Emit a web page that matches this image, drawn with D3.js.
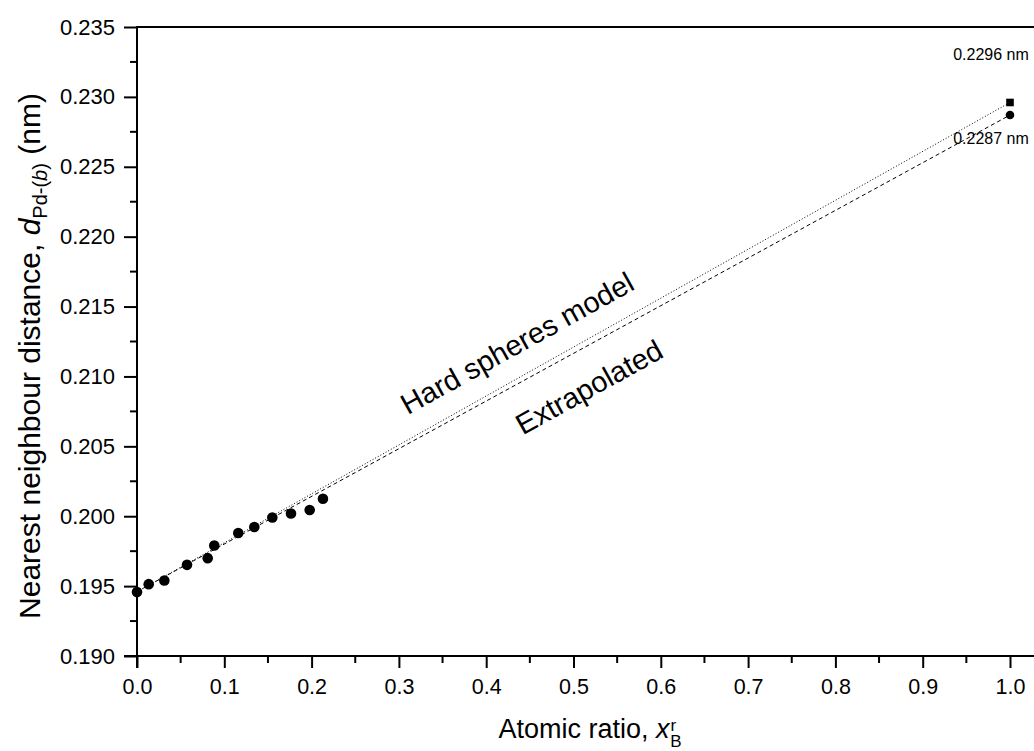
<!DOCTYPE html>
<html><head><meta charset="utf-8">
<script src="https://cdn.jsdelivr.net/npm/d3@7"></script>
<style>body{margin:0;background:#fff;} text{font-family:Arial,"Liberation Sans",sans-serif;fill:#000;}</style>
</head><body>
<svg id="c" width="1034" height="751"></svg>
<script>
// Data
const xMeasured = [0.0, 0.0134, 0.0313, 0.0573, 0.081, 0.0885, 0.116, 0.1344, 0.155, 0.1764, 0.1978, 0.213];
const yMeasured = [0.19457, 0.19514, 0.19540, 0.19652, 0.19700, 0.19791, 0.19880, 0.19923, 0.19991, 0.20020, 0.20044, 0.20125];
const hardSpheresX = [0.0, 1.0];
const hardSpheresY = [0.1946, 0.2296];
const extrapolatedX = [0.0, 1.0];
const extrapolatedY = [0.1946, 0.2287];
const xTicks = [0.0,0.1,0.2,0.3,0.4,0.5,0.6,0.7,0.8,0.9,1.0];
const yTicks = [0.190,0.195,0.200,0.205,0.210,0.215,0.220,0.225,0.230,0.235];

const svg = d3.select("#c");
const x = d3.scaleLinear().domain([0,1]).range([137,1010]);
const y = d3.scaleLinear().domain([0.190,0.235]).range([656,27]);

// top frame line
svg.append("line").attr("x1",x(0)).attr("x2",1034).attr("y1",y(0.235)).attr("y2",y(0.235)).attr("stroke","#000").attr("stroke-width",2);

// x axis
const xAxis = d3.axisBottom(x).tickValues(xTicks).tickFormat(d3.format(".1f")).tickSize(12).tickPadding(11);
const xg = svg.append("g").attr("transform",`translate(0,${y(0.190)})`).call(xAxis);
xg.select(".domain").remove();
xg.append("line").attr("x1",124).attr("x2",1034).attr("stroke","#000").attr("stroke-width",2);
xg.selectAll(".tick line").attr("stroke-width",2);
xg.selectAll(".tick text").attr("font-size",21.5).attr("font-family","Arial, 'Liberation Sans', sans-serif");
const xMinor = d3.range(0.05,1.0,0.1);
xg.selectAll(".xminor").data(xMinor).enter().append("line").attr("x1",d=>x(d)).attr("x2",d=>x(d)).attr("y1",0).attr("y2",7).attr("stroke","#000").attr("stroke-width",2);

// y axis
const yAxis = d3.axisLeft(y).tickValues(yTicks).tickFormat(d3.format(".3f")).tickSize(13).tickPadding(9);
const yg = svg.append("g").attr("transform",`translate(${x(0)},0)`).call(yAxis);
yg.select(".domain").remove();
yg.append("line").attr("y1",y(0.235)-1).attr("y2",y(0.190)+12).attr("stroke","#000").attr("stroke-width",2);
yg.selectAll(".tick line").attr("stroke-width",2);
yg.selectAll(".tick text").attr("font-size",22).attr("font-family","Arial, 'Liberation Sans', sans-serif");
const yMinor = d3.range(0.1925,0.235,0.005);
yg.selectAll(".yminor").data(yMinor).enter().append("line").attr("y1",d=>y(d)).attr("y2",d=>y(d)).attr("x1",0).attr("x2",-7).attr("stroke","#000").attr("stroke-width",2);

// lines
const line = d3.line().x(d=>x(d[0])).y(d=>y(d[1]));
svg.append("path").datum(d3.zip(hardSpheresX, hardSpheresY)).attr("d",line).attr("fill","none").attr("stroke","#000").attr("stroke-width",1).attr("stroke-dasharray","1,2");
svg.append("path").datum(d3.zip(extrapolatedX, extrapolatedY)).attr("d",line).attr("fill","none").attr("stroke","#000").attr("stroke-width",1).attr("stroke-dasharray","4,3");

// points
svg.selectAll(".pt").data(d3.zip(xMeasured,yMeasured)).enter().append("circle")
  .attr("cx",d=>x(d[0])).attr("cy",d=>y(d[1])).attr("r",5.3).attr("fill","#000");
svg.append("rect").attr("x",x(1)-3.8).attr("y",y(hardSpheresY[1])-3.8).attr("width",7.6).attr("height",7.6).attr("fill","#000");
svg.append("circle").attr("cx",x(1)).attr("cy",y(extrapolatedY[1])).attr("r",4.3).attr("fill","#000");

// annotations
svg.append("text").attr("x",991).attr("y",60).attr("text-anchor","middle").attr("font-size",16).text("0.2296 nm");
svg.append("text").attr("x",991).attr("y",144).attr("text-anchor","middle").attr("font-size",16).text("0.2287 nm");

const ang = Math.atan2(y(0.1946)-y(0.2292), x(1)-x(0))*180/Math.PI;
svg.append("text").attr("transform",`translate(522,352) rotate(${-ang})`).attr("text-anchor","middle").attr("font-size",29).text("Hard spheres model");
svg.append("text").attr("transform",`translate(594,396) rotate(${-ang})`).attr("text-anchor","middle").attr("font-size",29).text("Extrapolated");

// axis titles
const xt = svg.append("text").attr("x",590).attr("y",738).attr("text-anchor","middle").attr("font-size",27);
xt.append("tspan").text("Atomic ratio, ");
xt.append("tspan").attr("font-style","italic").text("x");
xt.append("tspan").attr("font-size",17).attr("dy",-7).attr("dx",1).text("r");
xt.append("tspan").attr("font-size",17).attr("dy",16).attr("dx",-6).text("B");

const yt = svg.append("text").attr("transform","translate(40,356) rotate(-90)").attr("text-anchor","middle").attr("font-size",30);
yt.append("tspan").text("Nearest neighbour distance, ");
yt.append("tspan").attr("font-style","italic").text("d");
yt.append("tspan").attr("font-size",20).attr("dy",7).text("Pd-(");
yt.append("tspan").attr("font-size",20).attr("font-style","italic").text("b");
yt.append("tspan").attr("font-size",20).text(")");
yt.append("tspan").attr("dy",-7).text(" (nm)");
</script>
</body></html>
